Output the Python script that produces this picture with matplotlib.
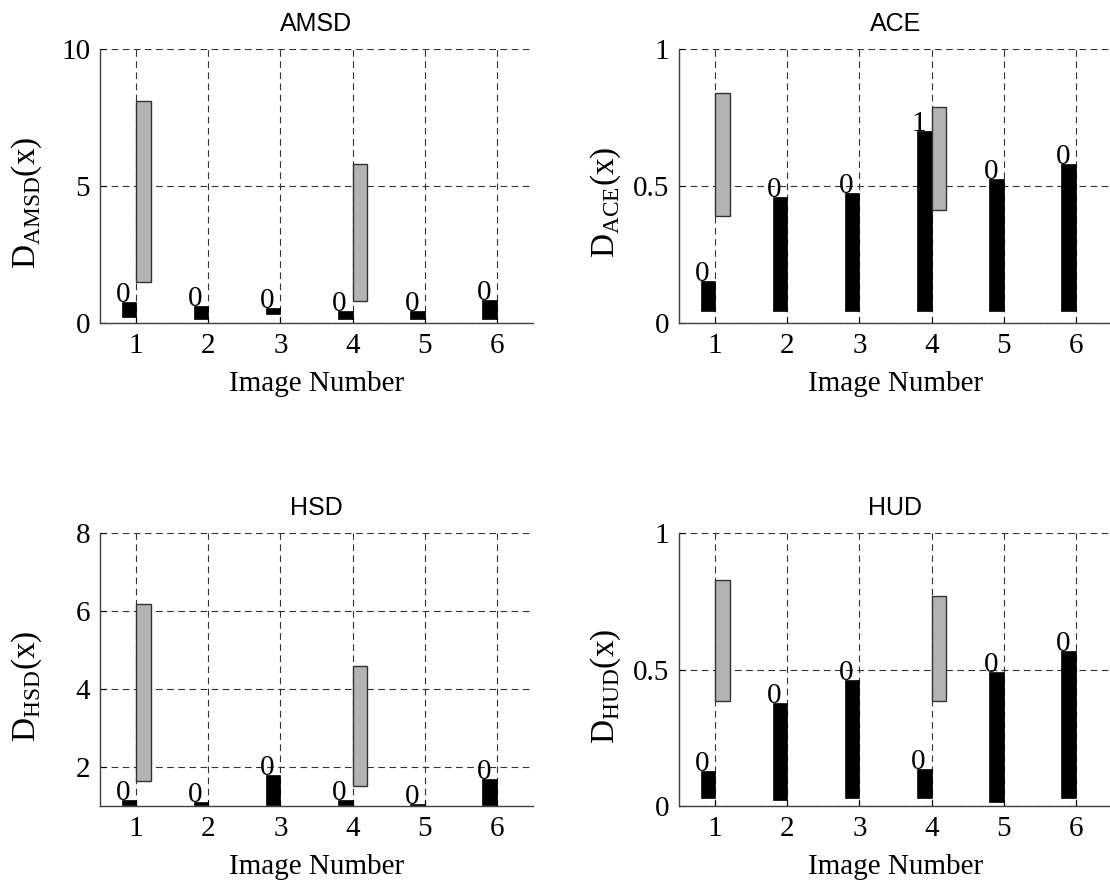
#!/usr/bin/env python3
"""Four floating-bar panels (AMSD, ACE, HSD, HUD) per image number."""

import matplotlib
matplotlib.use("Agg")
import matplotlib.pyplot as plt
from matplotlib.ticker import FormatStrFormatter

plt.rcParams["font.family"] = ["Liberation Serif", "DejaVu Serif"]
plt.rcParams["mathtext.fontset"] = "custom"
plt.rcParams["mathtext.rm"] = "Liberation Serif"

IMAGES = [1, 2, 3, 4, 5, 6]
GRAY_IMAGES = [1, 4]

# AMSD
AMSD_BLACK_TOP = [0.76, 0.62, 0.54, 0.45, 0.45, 0.84]
AMSD_BLACK_BOT = [0.23, 0.15, 0.32, 0.15, 0.15, 0.15]
AMSD_GRAY_TOP = [8.11, 5.79]
AMSD_GRAY_BOT = [1.50, 0.82]
AMSD_LABELS = ["0", "0", "0", "0", "0", "0"]

# ACE
ACE_BLACK_TOP = [0.153, 0.461, 0.476, 0.701, 0.527, 0.580]
ACE_BLACK_BOT = [0.044, 0.044, 0.044, 0.044, 0.044, 0.044]
ACE_GRAY_TOP = [0.841, 0.789]
ACE_GRAY_BOT = [0.389, 0.412]
ACE_LABELS = ["0", "0", "0", "1", "0", "0"]

# HSD
HSD_BLACK_TOP = [1.16, 1.11, 1.79, 1.16, 1.05, 1.68]
HSD_BLACK_BOT = [1.02, 1.02, 1.02, 1.02, 1.02, 1.02]
HSD_GRAY_TOP = [6.17, 4.58]
HSD_GRAY_BOT = [1.63, 1.52]
HSD_LABELS = ["0", "0", "0", "0", "0", "0"]

# HUD
HUD_BLACK_TOP = [0.128, 0.377, 0.462, 0.137, 0.491, 0.567]
HUD_BLACK_BOT = [0.028, 0.021, 0.028, 0.028, 0.013, 0.028]
HUD_GRAY_TOP = [0.828, 0.768]
HUD_GRAY_BOT = [0.383, 0.383]
HUD_LABELS = ["0", "0", "0", "0", "0", "0"]

PANELS = [
    ("AMSD", "AMSD", AMSD_BLACK_TOP, AMSD_BLACK_BOT, AMSD_GRAY_TOP,
     AMSD_GRAY_BOT, AMSD_LABELS, (0, 10), [0, 5, 10]),
    ("ACE", "ACE", ACE_BLACK_TOP, ACE_BLACK_BOT, ACE_GRAY_TOP,
     ACE_GRAY_BOT, ACE_LABELS, (0, 1), [0, 0.5, 1]),
    ("HSD", "HSD", HSD_BLACK_TOP, HSD_BLACK_BOT, HSD_GRAY_TOP,
     HSD_GRAY_BOT, HSD_LABELS, (1, 8), [2, 4, 6, 8]),
    ("HUD", "HUD", HUD_BLACK_TOP, HUD_BLACK_BOT, HUD_GRAY_TOP,
     HUD_GRAY_BOT, HUD_LABELS, (0, 1), [0, 0.5, 1]),
]

W, H = 1110, 882
# axes boxes in pixels: left, top, right, bottom
BOXES = [(100, 49, 533, 323), (679, 49, 1112, 323),
         (100, 533, 533, 806), (679, 533, 1112, 806)]

GRID_KW = dict(color="#333333", linewidth=0.8, linestyle=(0, (6, 4)))


def draw_panel(ax, name, sub, btop, bbot, gtop, gbot, labels, ylim, yticks):
    bx = [i - 0.1 for i in IMAGES]
    ax.bar(bx, [t - b for t, b in zip(btop, bbot)], width=0.2, bottom=bbot,
           color="black", edgecolor="black", linewidth=0.5, zorder=3)
    gx = [i + 0.1 for i in GRAY_IMAGES]
    ax.bar(gx, [t - b for t, b in zip(gtop, gbot)], width=0.2, bottom=gbot,
           color="#b3b3b3", edgecolor="#333333", linewidth=1.0, zorder=3)
    for i, t, lab in zip(IMAGES, btop, labels):
        ax.text(i - 0.18, t, lab, ha="center", va="baseline", fontsize=21,
                zorder=4)

    ax.set_xlim(0.5, 6.5)
    ax.set_ylim(*ylim)
    ax.set_xticks(IMAGES)
    ax.set_yticks(yticks)
    ax.yaxis.set_major_formatter(FormatStrFormatter("%g"))
    ax.grid(True, **GRID_KW)
    ax.set_axisbelow(True)
    for s in ("top", "right"):
        ax.spines[s].set_visible(False)
    for s in ("left", "bottom"):
        ax.spines[s].set_color("#404040")
        ax.spines[s].set_linewidth(1.0)
    ax.tick_params(direction="in", length=4, width=0.8, colors="black",
                   labelsize=21, pad=7)
    ax.set_title(name, fontsize=18, family=["Liberation Sans"], pad=13)
    ax.set_xlabel("Image Number", fontsize=21, labelpad=9)
    ax.set_ylabel(r"D$_{\mathrm{%s}}$(x)" % sub, fontsize=24)
    ax.yaxis.set_label_coords(-0.13, 0.44)


def main():
    fig = plt.figure(figsize=(W / 100, H / 100), dpi=100)
    for box, panel in zip(BOXES, PANELS):
        l, t, r, b = box
        ax = fig.add_axes([l / W, 1 - b / H, (r - l) / W, (b - t) / H])
        draw_panel(ax, *panel)
    fig.savefig("out.png", dpi=100)


if __name__ == "__main__":
    main()
